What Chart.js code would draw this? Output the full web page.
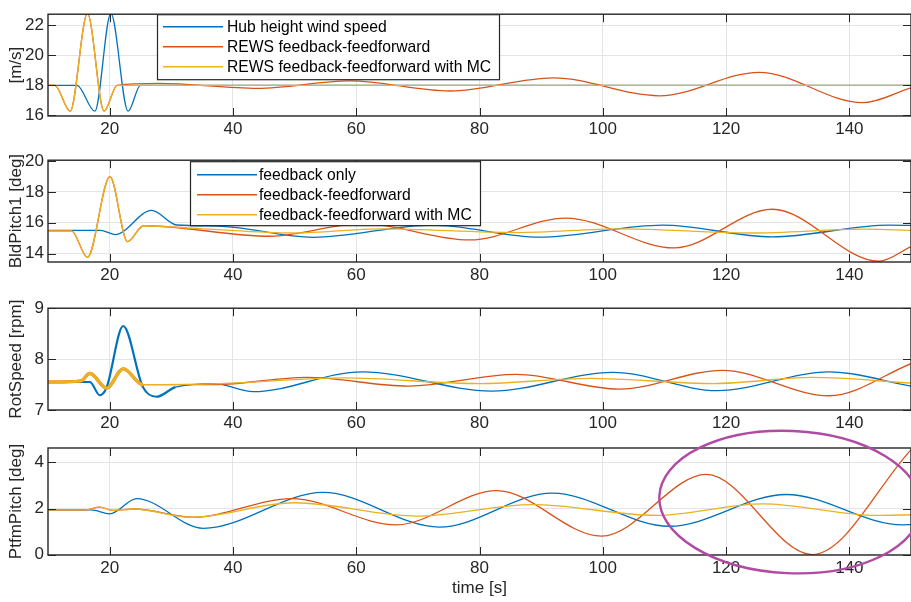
<!DOCTYPE html>
<html>
<head>
<meta charset="utf-8">
<script src="https://cdn.jsdelivr.net/npm/chart.js@4.4.1/dist/chart.umd.min.js"></script>
<style>
  body { margin: 0; background: #fff; }
  #wrap { position: relative; width: 911px; height: 602px; overflow: hidden; }
  canvas { position: absolute; left: 0; }
</style>
</head>
<body>
<div id="wrap">
  <canvas id="c1" width="911" height="140" style="top:0px"></canvas>
  <canvas id="c2" width="911" height="140" style="top:146px"></canvas>
  <canvas id="c3" width="911" height="140" style="top:294px"></canvas>
  <canvas id="c4" width="911" height="174" style="top:428px"></canvas>
</div>
<script>
// time axis
const timeTicks = [20, 40, 60, 80, 100, 120, 140];

// panel 1: wind speed [m/s]
const windHubT = [10, 14.7, 17.6, 20.2, 23.0, 25.0, 150];
const windHubV = [18, 18, 16.27, 22.8, 16.27, 18, 18];
const windFfT = [10, 11.1, 13.6, 16.4, 19.1, 21.2, 28, 44, 59, 75.2, 92, 109.2, 125.4, 142.1, 150];
const windFfV = [18, 18, 16.27, 22.8, 16.27, 18, 18.13, 17.8, 18.3, 17.62, 18.5, 17.3, 18.87, 16.84, 17.83];
const windMcT = [10, 11.1, 13.6, 16.4, 19.1, 21.2, 150];
const windMcV = [18, 18, 16.27, 22.8, 16.27, 18, 18];
const windTicks = [16, 18, 20, 22];

// panel 2: blade pitch [deg]
const pitchFbT = [10, 18.5, 20.9, 26.8, 30.9, 37.5, 53, 72.4, 89.7, 109.7, 127.5, 146.5, 150];
const pitchFbV = [15.5, 15.5, 15.23, 16.8, 15.85, 15.78, 15.05, 15.84, 15.06, 15.84, 15.08, 15.84, 15.82];
const pitchFfT = [10, 13.8, 16.4, 20.05, 22.9, 25.5, 46, 61, 78.4, 94, 111.6, 127.5, 144.8, 150];
const pitchFfV = [15.47, 15.47, 13.75, 18.99, 14.77, 15.8, 15.12, 15.94, 14.88, 16.3, 14.36, 16.87, 13.5, 14.45];
const pitchMcT = [10, 13.8, 16.4, 20.05, 22.9, 25.5, 35, 50, 64, 86, 103, 124, 142.7, 150];
const pitchMcV = [15.47, 15.47, 13.75, 18.99, 14.77, 15.8, 15.6, 15.33, 15.6, 15.36, 15.6, 15.33, 15.58, 15.5];
const pitchTicks = [14, 16, 18, 20];

// panel 3: rotor speed [rpm]
const rotFbT = [10, 16.8, 18.4, 19.5, 22.2, 25.4, 27.6, 30.7, 37, 43.3, 61, 82, 101.6, 118.6, 136.7, 150];
const rotFbV = [7.55, 7.55, 7.29, 7.44, 8.65, 7.45, 7.26, 7.45, 7.52, 7.36, 7.75, 7.37, 7.74, 7.38, 7.75, 7.47];
const rotFfT = [10, 15.3, 16.8, 19.5, 22.2, 25.4, 37, 52, 68.5, 86, 102.7, 119.4, 136.7, 150];
const rotFfV = [7.55, 7.57, 7.72, 7.43, 7.81, 7.5, 7.5, 7.64, 7.47, 7.7, 7.41, 7.78, 7.28, 7.91];
const rotMcT = [10, 15.3, 16.8, 19.5, 22.2, 25.4, 38, 58, 80, 98, 118, 134, 150];
const rotMcV = [7.55, 7.57, 7.72, 7.43, 7.81, 7.5, 7.52, 7.63, 7.52, 7.62, 7.52, 7.64, 7.53];
const rotTicks = [7, 8, 9];

// panel 4: platform pitch [deg]
const ptfmFbT = [10, 17, 20, 24.4, 35.2, 54.6, 73.5, 91.8, 110.8, 129.8, 148.6, 150];
const ptfmFbV = [1.94, 1.94, 1.77, 2.43, 1.14, 2.7, 1.19, 2.67, 1.23, 2.61, 1.29, 1.3];
const ptfmFfT = [10, 16, 18.4, 20.5, 24, 33.5, 49.5, 66.5, 82.8, 99.8, 116.8, 134, 150];
const ptfmFfV = [1.94, 1.94, 2.06, 1.92, 1.98, 1.62, 2.43, 1.29, 2.78, 0.8, 3.48, 0.0, 4.55];
const ptfmMcT = [10, 16, 18.4, 20.5, 24, 33, 50, 69.8, 88.6, 108.7, 125.9, 144.4, 150];
const ptfmMcV = [1.94, 1.94, 2.06, 1.92, 1.98, 1.62, 2.25, 1.67, 2.17, 1.70, 2.2, 1.70, 1.73];
const ptfmTicks = [0, 2, 4];

const windLabels = ['Hub height wind speed', 'REWS feedback-feedforward', 'REWS feedback-feedforward with MC'];
const ctrlLabels = ['feedback only', 'feedback-feedforward', 'feedback-feedforward with MC'];

const BLUE = '#0072BD', RED = '#D95319', YELLOW = '#EDB120';
const FONT = '"Liberation Sans", Arial, Helvetica, sans-serif';
const INK = '#262626';

const pts = (t, v) => t.map((tt, i) => ({ x: tt, y: v[i] }));

function series(t, v, color, order, width) {
  return {
    data: pts(t, v),
    borderColor: color,
    borderWidth: width || 1.3,
    pointRadius: 0,
    cubicInterpolationMode: 'monotone',
    order: order
  };
}

// MATLAB style box: frame, inside ticks, legend, annotation
const matlabBox = {
  id: 'matlabBox',
  afterDraw(chart, args, opts) {
    const { ctx, chartArea: a } = chart;
    const x = chart.scales.x, y = chart.scales.y;
    ctx.save();
    ctx.strokeStyle = INK;
    ctx.lineWidth = 1;
    ctx.beginPath();
    x.ticks.forEach(t => {
      const px = Math.round(x.getPixelForValue(t.value)) + 0.5;
      ctx.moveTo(px, a.top); ctx.lineTo(px, a.top + 8);
      ctx.moveTo(px, a.bottom); ctx.lineTo(px, a.bottom - 8);
    });
    y.ticks.forEach(t => {
      const py = Math.round(y.getPixelForValue(t.value)) + 0.5;
      ctx.moveTo(a.left, py); ctx.lineTo(a.left + 8, py);
      ctx.moveTo(a.right, py); ctx.lineTo(a.right - 8, py);
    });
    ctx.stroke();
    ctx.lineWidth = 1.4;
    ctx.strokeRect(a.left, a.top, a.right - a.left, a.bottom - a.top);

    const lg = opts.legend;
    if (lg) {
      const bx = a.left + lg.x, by = a.top + lg.y;
      ctx.fillStyle = '#fff';
      ctx.fillRect(bx, by, lg.w, lg.h);
      ctx.lineWidth = 1.2;
      ctx.strokeStyle = INK;
      ctx.strokeRect(bx + 0.5, by + 0.5, lg.w, lg.h);
      ctx.font = '15.7px ' + FONT;
      ctx.textBaseline = 'middle';
      lg.labels.forEach((lab, i) => {
        const ry = by + lg.row0 + i * 20;
        ctx.strokeStyle = lg.colors[i];
        ctx.lineWidth = 1.5;
        ctx.beginPath();
        ctx.moveTo(bx + lg.l0, ry); ctx.lineTo(bx + lg.l1, ry);
        ctx.stroke();
        ctx.fillStyle = '#000';
        ctx.fillText(lab, bx + lg.tx, ry + 1);
      });
    }

    const el = opts.ellipse;
    if (el) {
      const cx = x.getPixelForValue(el.t), cy = y.getPixelForValue(el.v);
      const rx = Math.abs(x.getPixelForValue(el.t + el.dt) - cx);
      const ry = Math.abs(y.getPixelForValue(el.v + el.dv) - cy);
      ctx.strokeStyle = '#b04aa2';
      ctx.lineWidth = 2.4;
      ctx.beginPath();
      ctx.ellipse(cx, cy, rx, ry, el.rot, 0, Math.PI * 2);
      ctx.stroke();
    }
    ctx.restore();
  }
};

function makePanel(id, o) {
  new Chart(document.getElementById(id), {
    type: 'line',
    data: { datasets: o.datasets },
    options: {
      responsive: false,
      animation: false,
      events: [],
      layout: { padding: { top: o.padTop, left: 0, right: 0, bottom: 0 } },
      plugins: {
        legend: { display: false },
        tooltip: { enabled: false },
        matlabBox: { legend: o.legend, ellipse: o.ellipse }
      },
      scales: {
        x: {
          type: 'linear', min: 10, max: 150,
          afterBuildTicks: s => { s.ticks = timeTicks.map(v => ({ value: v })); },
          afterFit: s => { s.height = o.xH; },
          grid: { color: '#e4e4e4', drawTicks: false },
          border: { display: false },
          ticks: { color: INK, font: { family: FONT, size: 17 }, padding: 3, maxRotation: 0 },
          title: o.xTitle ? { display: true, text: o.xTitle, color: INK,
                              font: { family: FONT, size: 17 }, padding: { top: 0, bottom: 3 } } : { display: false }
        },
        y: {
          min: o.yMin, max: o.yMax,
          afterBuildTicks: s => { s.ticks = o.yTicks.map(v => ({ value: v })); },
          afterFit: s => { s.width = 48; },
          grid: { color: '#e4e4e4', drawTicks: false },
          border: { display: false },
          ticks: { color: INK, font: { family: FONT, size: 17 }, padding: 4 },
          title: { display: true, text: o.yTitle, color: INK,
                   font: { family: FONT, size: 17 }, padding: { top: 6, bottom: 0 } }
        }
      }
    },
    plugins: [matlabBox]
  });
}

makePanel('c1', {
  padTop: 9, xH: 24, yMin: 15.95, yMax: 22.75, yTicks: windTicks, yTitle: '[m/s]',
  datasets: [
    series(windHubT, windHubV, BLUE, 2),
    series(windFfT, windFfV, RED, 1),
    series(windMcT, windMcV, YELLOW, 0)
  ],
  legend: { x: 109, y: 0, w: 342, h: 65, row0: 12.5, l0: 6, l1: 66, tx: 70,
            labels: windLabels, colors: [BLUE, RED, YELLOW] }
});

makePanel('c2', {
  padTop: 9, xH: 24, yMin: 13.45, yMax: 20.05, yTicks: pitchTicks, yTitle: 'BldPitch1 [deg]',
  datasets: [
    series(pitchFbT, pitchFbV, BLUE, 2),
    series(pitchFfT, pitchFfV, RED, 1),
    series(pitchMcT, pitchMcV, YELLOW, 0)
  ],
  legend: { x: 142, y: 1, w: 290, h: 64, row0: 13.5, l0: 7, l1: 67, tx: 69,
            labels: ctrlLabels, colors: [BLUE, RED, YELLOW] }
});

const rotFb = series(rotFbT, rotFbV, BLUE, 2);
rotFb.segment = { borderWidth: c => (c.p1.parsed.x <= 31 ? 2.2 : 1.3) };
const rotMc = series(rotMcT, rotMcV, YELLOW, 0);
rotMc.segment = { borderWidth: c => (c.p1.parsed.x <= 26 ? 3.2 : 1.3) };
const rotFf = series(rotFfT, rotFfV, RED, 1);
rotFf.segment = { borderWidth: c => (c.p1.parsed.x <= 26 ? 3.2 : 1.3) };

makePanel('c3', {
  padTop: 9, xH: 24, yMin: 7, yMax: 9, yTicks: rotTicks, yTitle: 'RotSpeed [rpm]',
  datasets: [rotFb, rotFf, rotMc]
});

makePanel('c4', {
  padTop: 20, xH: 47, yMin: -0.02, yMax: 4.63, yTicks: ptfmTicks, yTitle: 'PtfmPitch [deg]',
  xTitle: 'time [s]',
  datasets: [
    series(ptfmFbT, ptfmFbV, BLUE, 2),
    series(ptfmFfT, ptfmFfV, RED, 1),
    series(ptfmMcT, ptfmMcV, YELLOW, 0)
  ],
  ellipse: { t: 130.4, v: 2.28, dt: 21.25, dv: 3.09, rot: 0.045 }
});
</script>
</body>
</html>
